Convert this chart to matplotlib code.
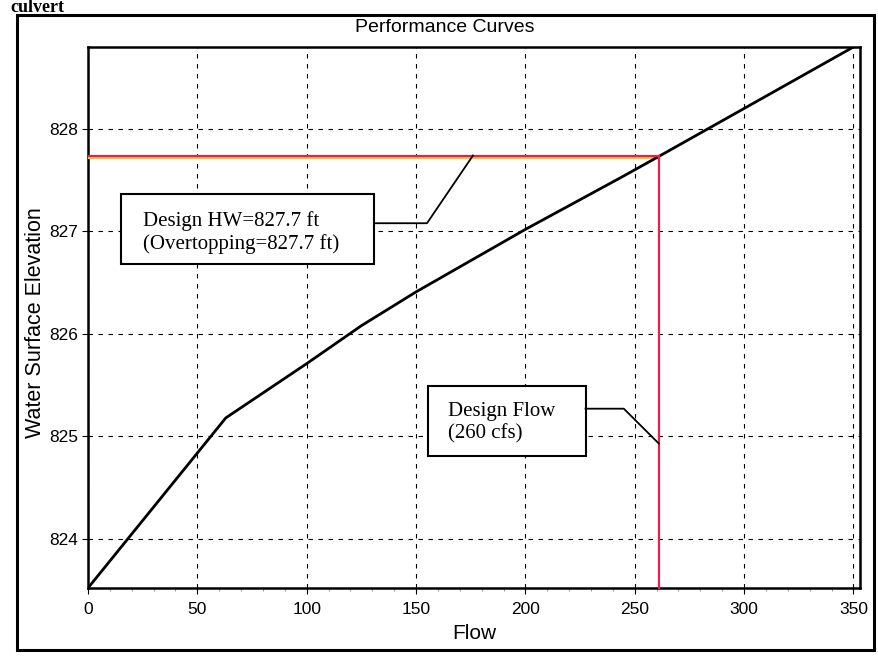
import matplotlib
matplotlib.use("Agg")
import matplotlib.pyplot as plt
from matplotlib.patches import Rectangle

# ---- data ----
flow = [0, 63, 100, 125, 150, 200, 244, 260, 300, 350]
elev = [823.52, 825.18, 825.71, 826.08, 826.41, 827.02, 827.53, 827.72, 828.2, 828.8]
design_flow = 261
design_hw = 827.74
x_ticks = [0, 50, 100, 150, 200, 250, 300, 350]
y_ticks = [824, 825, 826, 827, 828]
title = "Performance Curves"
x_label = "Flow"
y_label = "Water Surface Elevation"
note_hw = "Design HW=827.7 ft\n(Overtopping=827.7 ft)"
note_flow = "Design Flow\n(260 cfs)"

plt.rcParams['font.family'] = ['Liberation Sans', 'DejaVu Sans']

W, H = 879, 660
fig = plt.figure(figsize=(8.79, 6.6), dpi=100)
ax = fig.add_axes([88/W, 1-588/H, (860-88)/W, (588-47)/H])

# outer frame
fig.patches.append(Rectangle((17/W, 1-650/H), (874-17)/W, (650-15)/H,
                             transform=fig.transFigure, fill=False,
                             edgecolor='black', linewidth=2.2))
fig.text(10/W, 1-12.5/H, "culvert", family='Liberation Serif',
         fontweight='bold', fontsize=13, ha='left', va='baseline')
fig.text(445/W, 1-28/H, title, fontsize=14, ha='center', va='center')

ax.set_xlim(0, 353)
ax.set_ylim(823.52, 828.8)
ax.set_xticks(x_ticks)
ax.set_yticks(y_ticks)
ax.set_xticks(range(0, 351, 10), minor=True)
ax.tick_params(axis='both', which='major', labelsize=12.5, length=4, direction='out')
ax.tick_params(axis='x', which='major', pad=6)
ax.tick_params(axis='y', which='major', pad=3)
ax.tick_params(axis='x', which='minor', length=2, color='#888888')
ax.grid(True, which='major', color='black', linestyle=(0, (4, 5)), linewidth=0.8)
for s in ax.spines.values():
    s.set_linewidth(1.8)

ax.set_xlabel(x_label, fontsize=15)
ax.xaxis.set_label_coords(0.5, -0.066)
ax.set_ylabel(y_label, fontsize=15.5)
ax.yaxis.set_label_coords(-0.054, 0.49)

# performance curve
ax.plot(flow, elev, color='black', linewidth=2, zorder=4)

# design lines
ax.plot([0, design_flow], [design_hw - 0.02, design_hw - 0.02], color='#f2c84b',
        linewidth=1.6, zorder=3)
ax.plot([0, design_flow], [design_hw, design_hw], color='#e8204a', linewidth=1.6, zorder=5)
ax.plot([design_flow, design_flow], [design_hw, 823.52], color='#e8204a',
        linewidth=1.6, zorder=5, clip_on=False)

# annotation boxes
ax.add_patch(Rectangle((15, 826.68), 116, 0.69, facecolor='white',
                       edgecolor='black', linewidth=1.5, zorder=6))
ax.text(25, 826.99, note_hw, family='Liberation Serif', fontsize=15,
        ha='left', va='center', linespacing=1.2, zorder=7)
ax.plot([131, 155, 176], [827.08, 827.08, design_hw], color='black',
        linewidth=1.3, zorder=6)

ax.add_patch(Rectangle((155.5, 824.81), 72, 0.68, facecolor='white',
                       edgecolor='black', linewidth=1.5, zorder=6))
ax.text(164.5, 825.13, note_flow, family='Liberation Serif', fontsize=15,
        ha='left', va='center', linespacing=1.2, zorder=7)
ax.plot([227.5, 245, design_flow], [825.27, 825.27, 824.93], color='black',
        linewidth=1.3, zorder=6)

fig.savefig("out.png", dpi=100)
